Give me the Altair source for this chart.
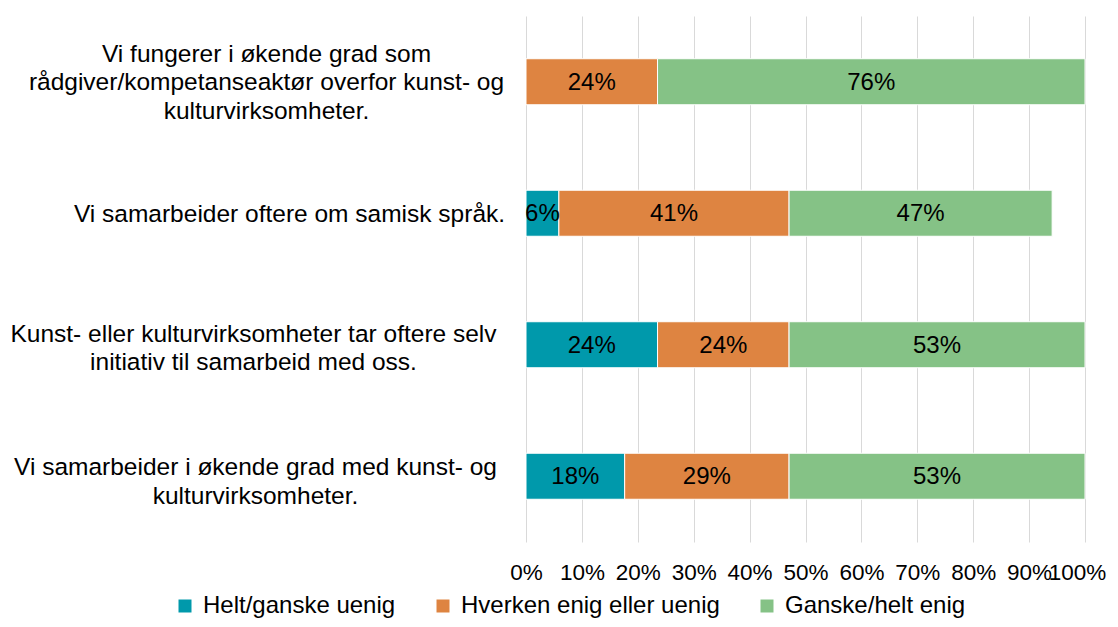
import altair as alt
import pandas as pd

categories = [
    "Vi fungerer i økende grad som|rådgiver/kompetanseaktør overfor kunst- og|kulturvirksomheter.",
    "Vi samarbeider oftere om samisk språk.",
    "Kunst- eller kulturvirksomheter tar oftere selv|initiativ til samarbeid med oss.",
    "Vi samarbeider i økende grad med kunst- og|kulturvirksomheter.",
]
series = ["Helt/ganske uenig", "Hverken enig eller uenig", "Ganske/helt enig"]
colors = ["#0099AB", "#DE8441", "#85C286"]

uenig = [0.0, 5.88, 23.53, 17.65]
hverken = [23.53, 41.18, 23.53, 29.41]
enig = [76.47, 47.06, 52.94, 52.94]
ticks = [0, 10, 20, 30, 40, 50, 60, 70, 80, 90, 100]

rows = []
for i, c in enumerate(categories):
    for j, (s, vals) in enumerate(zip(series, [uenig, hverken, enig])):
        if vals[i] > 0:
            rows.append({"cat": c, "series": s, "order": j, "value": vals[i]})
df = pd.DataFrame(rows)

FONT = "Liberation Sans"

T1 = "indexof(datum.value, 'Vi fungerer') === 0"
T2 = "indexof(datum.value, 'Vi samarbeider oftere') === 0"
T3 = "indexof(datum.value, 'Kunst-') === 0"

base = alt.Chart(df).transform_stack(
    stack="value", groupby=["cat"], as_=["start", "end"],
    sort=[alt.SortField("order", order="ascending")]
).transform_calculate(
    mid="(datum.start + datum.end) / 2",
    lab="format(datum.value, '.0f') + '%'"
)

y_enc = alt.Y(
    "cat:N", sort=categories, title=None,
    scale=alt.Scale(paddingInner=0.65, paddingOuter=0.325),
    axis=alt.Axis(
        labelExpr="split(datum.value, '|')", labelAlign="center",
        labelBaseline="middle",
        labelPadding={"condition": [{"test": T1, "value": 260},
                                    {"test": T2, "value": 237},
                                    {"test": T3, "value": 273}],
                      "value": 271},
        labelOffset={"condition": [{"test": T1, "value": -27},
                                   {"test": T2, "value": 2},
                                   {"test": T3, "value": -10}],
                     "value": -8},
        labelLimit=700,
        labelFont=FONT, labelFontSize=24.5, labelColor="#000000",
        labelLineHeight=28.5, domain=False, ticks=False, grid=False
    ),
)

bars = base.mark_bar(stroke="white", strokeWidth=1).encode(
    x=alt.X(
        "start:Q", title=None,
        scale=alt.Scale(domain=[0, 100], nice=False),
        axis=alt.Axis(
            values=ticks, labelOverlap=False, labelFlush=False,
            labelExpr="datum.value + '%'",
            labelOffset={"condition": {"test": "datum.value === 100", "value": -8}, "value": 0},
            labelFont=FONT, labelFontSize=22.5,
            labelColor="#000000", labelPadding=19, domain=False, ticks=False,
            grid=True, gridColor="#D9D9D9", gridWidth=1
        ),
    ),
    x2="end:Q",
    y=y_enc,
    color=alt.Color(
        "series:N", sort=series, title=None,
        scale=alt.Scale(domain=series, range=colors),
        legend=alt.Legend(
            orient="none", legendX=-353, legendY=578, direction="horizontal",
            symbolType="square", symbolSize=169, symbolStrokeWidth=0,
            labelFont=FONT, labelFontSize=24, labelColor="#000000",
            columnPadding=35, labelOffset=6, labelLimit=400
        ),
    ),
    order=alt.Order("order:Q"),
)

text = base.mark_text(font=FONT, fontSize=24, color="#000000", dy=1).encode(
    x=alt.X("mid:Q"),
    y=alt.Y("cat:N", sort=categories),
    text="lab:N",
)

chart = alt.layer(bars, text).properties(
    width=559, height=526,
    padding={"left": 518, "top": 8, "right": 25, "bottom": 77},
    autosize="none",
).configure_view(stroke=None)

chart.save("out.html", embed_options={"renderer": "svg", "actions": False})
